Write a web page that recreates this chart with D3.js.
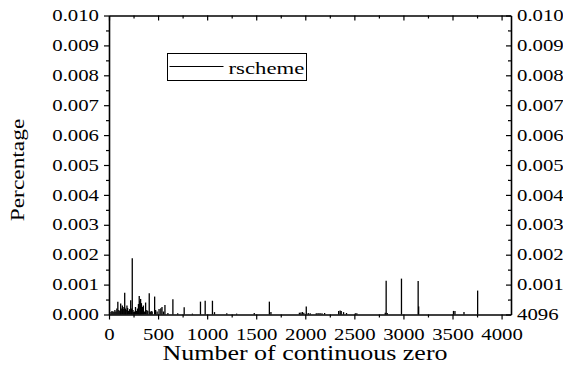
<!DOCTYPE html>
<html>
<head>
<meta charset="utf-8">
<script src="https://cdn.jsdelivr.net/npm/d3@7"></script>
<style>
  body { margin: 0; background: #fff; }
  svg { display: block; }
  text { font-family: "Liberation Serif", "Times New Roman", serif; fill: #000; }
</style>
</head>
<body>
<div id="chart"></div>
<script>
// run lengths of zeros and their share
var zeroLens = [20, 30, 40, 50, 60, 70, 80, 90, 100, 110, 119, 125, 136, 145, 152,
  160, 168, 175, 183, 190, 200, 210, 221, 228, 237, 245, 252, 260, 270, 280, 290,
  300, 308, 315, 322, 330, 340, 350, 360, 373, 385, 395, 410, 420, 430, 440, 465,
  475, 490, 510, 528, 540, 555, 570, 600, 651, 700, 766, 850, 932, 980, 1054, 1075,
  1200, 1300, 1480, 1634, 1650, 1940, 1955, 1970, 1985, 2010, 2030, 2050, 2112,
  2130, 2150, 2170, 2197, 2340, 2355, 2366, 2390, 2420, 2510, 2525, 2815, 2824,
  2835, 2980, 3150, 3155, 3510, 3525, 3617, 3756];
var percents = [0.00008, 0.00012, 0.0001, 0.00009, 0.00015, 0.0001, 0.0002, 0.00043,
  0.00015, 0.00012, 0.00037, 0.0002, 0.0003, 0.00018, 0.00025, 0.00073, 0.0002,
  0.00015, 0.0003, 0.00022, 0.00012, 0.00018, 0.00048, 0.0002, 0.00188, 0.00015,
  0.00008, 0.0001, 0.00025, 0.00012, 0.0002, 0.00035, 0.00062, 0.00045, 0.00052,
  0.00038, 0.00025, 0.0003, 0.0001, 0.0004, 0.00015, 0.00012, 0.00071, 0.00008,
  0.00012, 0.0001, 0.0006, 0.00015, 0.0001, 0.00018, 0.00021, 0.00025, 0.0001,
  0.00032, 0.00005, 0.00051, 0.00004, 0.00024, 0.00003, 0.00043, 0.00046, 0.00046,
  0.00008, 0.00004, 0.00003, 0.00005, 0.00043, 0.00008, 0.00006, 0.00007, 0.00008,
  0.00006, 0.00027, 0.00005, 0.00004, 0.00004, 0.00005, 0.00005, 0.00004, 0.00005,
  0.00012, 0.00013, 0.00012, 0.00008, 0.00005, 0.00004, 0.00004, 0.00006, 0.00113,
  0.00005, 0.0012, 0.00112, 0.00027, 0.00012, 0.00012, 0.00008, 0.0008];

var xTicks = [0, 500, 1000, 1500, 2000, 2500, 3000, 3500, 4000];
var xMinor = [250, 750, 1250, 1750, 2250, 2750, 3250, 3750];
var yTicks = [0, 0.001, 0.002, 0.003, 0.004, 0.005, 0.006, 0.007, 0.008, 0.009, 0.010];
var yMinor = [0.0005, 0.0015, 0.0025, 0.0035, 0.0045, 0.0055, 0.0065, 0.0075, 0.0085, 0.0095];
var seriesName = "rscheme";

(function() {
  var width = 563, height = 381,
      plotL = 109, plotR = 511, plotT = 15.5, plotB = 314.5,
      serif = "'Liberation Serif', 'Times New Roman', serif",
      stretch = 1.3; // the original's text is drawn wide

  var svg = d3.select("#chart").append("svg")
      .attr("width", width)
      .attr("height", height);

  var x = d3.scaleLinear().domain([0, 4096]).range([plotL, plotR]);
  var y = d3.scaleLinear().domain([0, 0.010]).range([plotB, plotT]);

  // the spikes
  svg.append("g").selectAll("line").data(d3.range(zeroLens.length))
    .enter().append("line")
      .attr("x1", function(i) { return x(zeroLens[i]); })
      .attr("x2", function(i) { return x(zeroLens[i]); })
      .attr("y1", y(0))
      .attr("y2", function(i) { return y(percents[i]); })
      .attr("stroke", "#000")
      .attr("stroke-width", 1.3);

  function styleAxis(g) {
    g.attr("font-family", serif).attr("font-size", 16);
    g.selectAll("path.domain").attr("stroke", "#000").attr("stroke-width", 1.6);
    g.selectAll(".tick line").attr("stroke", "#000").attr("stroke-width", 1.2);
    g.selectAll(".tick text")
      .attr("fill", "#000")
      .style("font-family", serif)
      .style("font-size", "16px")
      .attr("x", function() { return (+d3.select(this).attr("x") || 0) / stretch; })
      .attr("transform", "scale(" + stretch + ",1)");
  }

  function minorAxis(axisFn, scale, vals, size, pos) {
    var g = svg.append("g").attr("transform", pos)
      .call(axisFn(scale).tickValues(vals).tickSizeInner(size).tickSizeOuter(0)
        .tickFormat(""));
    g.select("path.domain").remove();
    g.selectAll(".tick line").attr("stroke", "#000").attr("stroke-width", 1.2);
  }

  var fmt = d3.format(".3f");

  // bottom
  svg.append("g").attr("transform", "translate(0," + plotB + ")")
    .call(d3.axisBottom(x).tickValues(xTicks).tickSizeInner(5).tickSizeOuter(0)
      .tickPadding(9).tickFormat(d3.format("d")))
    .call(styleAxis);
  minorAxis(d3.axisBottom, x, xMinor, 3, "translate(0," + plotB + ")");

  // top (inward ticks, no labels)
  svg.append("g").attr("transform", "translate(0," + plotT + ")")
    .call(d3.axisTop(x).tickValues(xTicks).tickSizeInner(-5).tickSizeOuter(0)
      .tickFormat(""))
    .call(styleAxis);
  minorAxis(d3.axisTop, x, xMinor, -3, "translate(0," + plotT + ")");

  // left
  svg.append("g").attr("transform", "translate(" + plotL + ",0)")
    .call(d3.axisLeft(y).tickValues(yTicks).tickSizeInner(5).tickSizeOuter(0)
      .tickPadding(5).tickFormat(fmt))
    .call(styleAxis);
  minorAxis(d3.axisLeft, y, yMinor, 3, "translate(" + plotL + ",0)");

  // right (inward ticks, labels outside; zero reads 4096 in the original)
  svg.append("g").attr("transform", "translate(" + plotR + ",0)")
    .call(d3.axisRight(y).tickValues(yTicks).tickSizeInner(-5).tickSizeOuter(0)
      .tickPadding(6).tickFormat(function(d) { return d === 0 ? "4096" : fmt(d); }))
    .call(styleAxis);
  minorAxis(d3.axisRight, y, yMinor, -3, "translate(" + plotR + ",0)");

  // axis titles
  svg.append("text")
      .attr("transform", "translate(" + ((plotL + plotR) / 2 - 5) + ",360) scale(" + stretch + ",1)")
      .attr("text-anchor", "middle")
      .style("font-size", "20px")
      .text("Number of continuous zero");

  svg.append("text")
      .attr("transform", "translate(24,170) rotate(-90) scale(" + stretch + ",1)")
      .attr("text-anchor", "middle")
      .style("font-size", "18px")
      .text("Percentage");

  // legend
  var legend = svg.append("g").attr("transform", "translate(167.5,53.5)");
  legend.append("rect")
      .attr("width", 139).attr("height", 27)
      .attr("fill", "#fff").attr("stroke", "#000").attr("stroke-width", 1);
  legend.append("line")
      .attr("x1", 2).attr("x2", 56).attr("y1", 13).attr("y2", 13)
      .attr("stroke", "#000").attr("stroke-width", 1.2);
  legend.append("text")
      .attr("transform", "translate(61,20) scale(" + stretch + ",1)")
      .style("font-size", "17.5px")
      .text(seriesName);
})();
</script>
</body>
</html>
